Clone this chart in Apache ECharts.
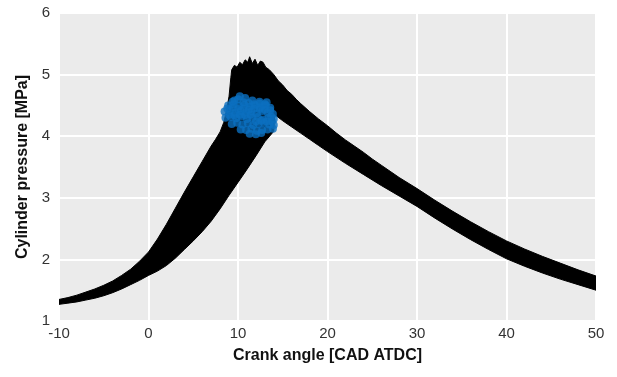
<!DOCTYPE html>
<html>
<head>
<meta charset="utf-8">
<script src="https://cdn.jsdelivr.net/npm/echarts@6/dist/echarts.min.js"></script>
<style>html,body{margin:0;padding:0;background:#fff}#c{width:617px;height:377px}</style>
</head>
<body>
<div id="c"></div>
<script>
// Upper envelope of the pressure-trace band
const upperX = [-10, -9, -8, -7, -6, -5, -4, -3, -2, -1, 0, 1, 2, 3, 4, 5, 6, 7, 7.5, 8, 8.4, 8.7, 9.0, 9.2, 9.3, 9.6, 9.9, 10.2, 10.5, 10.8, 11.1, 11.3, 11.6, 11.9, 12.2, 12.5, 12.8, 13.1, 13.5, 14.0, 14.5, 15, 15.5, 16, 16.5, 17, 18, 19, 20, 21, 22, 23, 24, 25, 26, 27, 28, 29, 30, 32, 34, 36, 38, 40, 42, 44, 46, 48, 50];
const upperY = [1.35, 1.38, 1.42, 1.47, 1.52, 1.58, 1.65, 1.74, 1.84, 1.97, 2.12, 2.33, 2.57, 2.83, 3.09, 3.34, 3.59, 3.84, 3.95, 4.07, 4.22, 4.4, 4.65, 4.95, 5.08, 5.15, 5.12, 5.2, 5.16, 5.24, 5.2, 5.29, 5.18, 5.25, 5.15, 5.22, 5.2, 5.12, 5.08, 5.0, 4.9, 4.83, 4.74, 4.68, 4.6, 4.53, 4.4, 4.28, 4.17, 4.05, 3.94, 3.84, 3.74, 3.63, 3.53, 3.43, 3.33, 3.24, 3.15, 2.96, 2.78, 2.61, 2.45, 2.3, 2.17, 2.05, 1.94, 1.83, 1.73];
// Lower envelope of the band
const lowerX = [-10, -9, -8, -7, -6, -5, -4, -3, -2, -1, 0, 1, 2, 3, 4, 5, 6, 7, 8, 9, 10, 11, 12, 13, 14.0, 14.1, 15, 16, 17, 18, 19, 20, 22, 24, 26, 28, 30, 32, 34, 36, 38, 40, 42, 44, 46, 48, 50];
const lowerY = [1.27, 1.29, 1.31, 1.34, 1.37, 1.41, 1.46, 1.52, 1.59, 1.66, 1.74, 1.81, 1.9, 2.02, 2.16, 2.3, 2.45, 2.62, 2.82, 3.04, 3.25, 3.46, 3.68, 3.91, 4.08, 4.35, 4.25, 4.15, 4.05, 3.95, 3.85, 3.75, 3.56, 3.38, 3.2, 3.03, 2.86, 2.67, 2.49, 2.32, 2.16, 2.01, 1.89, 1.78, 1.68, 1.59, 1.5];
// Blue markers (peak points)
const blueX = [9.6, 10.2, 10.8, 11.6, 12.4, 13.2, 8.9, 9.5, 10.1, 10.7, 11.3, 11.9, 12.5, 13.1, 13.6, 8.5, 9.1, 9.7, 10.3, 10.9, 11.5, 12.1, 12.7, 13.3, 13.9, 8.6, 9.2, 9.8, 10.4, 11.0, 11.6, 12.2, 12.8, 13.4, 14.0, 9.3, 9.9, 10.5, 11.1, 11.7, 12.3, 12.9, 13.5, 14.0, 10.3, 10.9, 11.5, 12.1, 12.7, 13.3, 13.9, 11.3, 12.0, 12.6, 9.4, 10.0, 10.6, 11.2, 11.8, 12.4, 13.0, 13.6, 8.8, 9.4, 10.0, 10.6, 11.2, 11.8, 12.4, 13.0, 13.7, 9.0, 9.6, 10.2, 10.8, 11.4, 12.0, 12.6, 13.2, 13.8];
const blueY = [4.58, 4.65, 4.62, 4.58, 4.56, 4.55, 4.5, 4.52, 4.49, 4.51, 4.48, 4.5, 4.47, 4.5, 4.46, 4.4, 4.42, 4.38, 4.41, 4.39, 4.4, 4.37, 4.41, 4.38, 4.36, 4.3, 4.31, 4.29, 4.32, 4.28, 4.3, 4.31, 4.27, 4.3, 4.28, 4.2, 4.22, 4.19, 4.21, 4.18, 4.2, 4.22, 4.19, 4.18, 4.11, 4.1, 4.12, 4.09, 4.1, 4.11, 4.12, 4.04, 4.03, 4.05, 4.56, 4.6, 4.55, 4.54, 4.52, 4.53, 4.52, 4.42, 4.45, 4.46, 4.44, 4.45, 4.43, 4.45, 4.44, 4.43, 4.32, 4.35, 4.34, 4.35, 4.34, 4.35, 4.24, 4.25, 4.24, 4.24];
const xTicks = [-10, 0, 10, 20, 30, 40, 50];
const yTicks = [1, 2, 3, 4, 5, 6];

const chart = echarts.init(document.getElementById('c'));
const font = '"Liberation Sans", Arial, sans-serif';
chart.setOption({
  animation: false,
  backgroundColor: '#fff',
  grid: {left: 59, right: 21, top: 13, bottom: 56, show: true, backgroundColor: '#ebebeb', borderColor: '#d4d4d4', borderWidth: 1},
  xAxis: {
    type: 'value', min: xTicks[0], max: xTicks[xTicks.length - 1], interval: 10,
    axisLine: {show: false}, axisTick: {show: false},
    splitLine: {show: true, lineStyle: {color: '#ffffff', width: 2}},
    axisLabel: {fontFamily: font, fontSize: 15, color: '#333', margin: 5, showMinLabel: true, showMaxLabel: true},
    name: 'Crank angle [CAD ATDC]', nameLocation: 'middle', nameGap: 27,
    nameTextStyle: {fontFamily: font, fontSize: 16, fontWeight: 'bold', color: '#111'}
  },
  yAxis: {
    type: 'value', min: yTicks[0], max: yTicks[yTicks.length - 1], interval: 1,
    axisLine: {show: false}, axisTick: {show: false},
    splitLine: {show: true, lineStyle: {color: '#ffffff', width: 2}},
    axisLabel: {fontFamily: font, fontSize: 15, color: '#333', margin: 9},
    name: 'Cylinder pressure [MPa]', nameLocation: 'middle', nameGap: 27,
    nameTextStyle: {fontFamily: font, fontSize: 16, fontWeight: 'bold', color: '#111'}
  },
  series: [
    {
      type: 'custom',
      data: [[0, 0]],
      clip: true,
      renderItem: function (params, api) {
        const pts = [];
        for (let i = 0; i < upperX.length; i++) pts.push(api.coord([upperX[i], upperY[i]]));
        for (let i = lowerX.length - 1; i >= 0; i--) pts.push(api.coord([lowerX[i], lowerY[i]]));
        return {type: 'polygon', shape: {points: pts}, style: {fill: '#000', stroke: '#000', lineWidth: 1}};
      },
      z: 2
    },
    {
      type: 'scatter',
      data: blueX.map((x, i) => [x, blueY[i]]),
      symbol: 'circle', symbolSize: 8,
      itemStyle: {color: '#0b6fbf'},
      z: 3
    }
  ]
});
</script>
</body>
</html>
